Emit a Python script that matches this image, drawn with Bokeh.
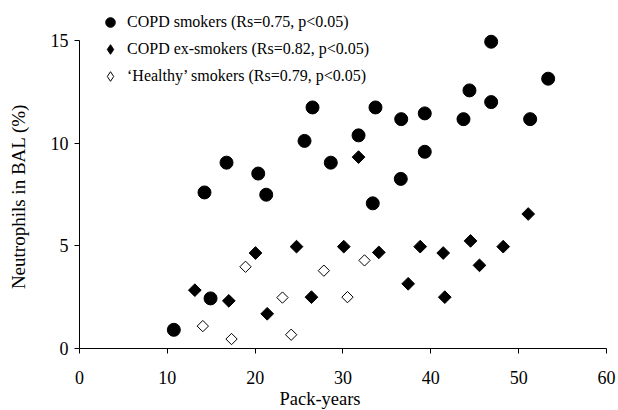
import math
from bokeh.plotting import figure
from bokeh.models import (ColumnDataSource, Legend, LegendItem, FixedTicker, Range1d,
                          LinearAxis)
from bokeh.core.properties import value
from bokeh.embed import file_html
from bokeh.resources import INLINE

# COPD smokers
copd_smk_x = [10.74, 14.92, 14.23, 16.74, 20.35, 21.26, 25.62, 26.53, 28.61, 31.77, 33.39,
              33.70, 36.58, 36.63, 39.31, 39.31, 43.72, 44.40, 46.87, 46.87, 51.31, 53.36]
copd_smk_y = [0.91, 2.44, 7.60, 9.05, 8.52, 7.49, 10.11, 11.74, 9.05, 10.38, 7.07,
              11.74, 8.26, 11.17, 9.58, 11.45, 11.17, 12.57, 14.94, 12.00, 11.17, 13.14]
# COPD ex-smokers
copd_ex_x = [13.13, 17.00, 20.04, 21.37, 24.71, 26.41, 30.09, 31.77, 34.08, 37.42, 38.79,
             41.41, 41.59, 44.52, 45.54, 48.24, 51.09]
copd_ex_y = [2.84, 2.32, 4.65, 1.69, 4.96, 2.50, 4.96, 9.32, 4.68, 3.15, 4.96,
             4.65, 2.50, 5.24, 4.05, 4.96, 6.55]
# 'Healthy' smokers
healthy_x = [14.04, 17.31, 18.90, 23.11, 24.10, 27.82, 30.51, 32.45]
healthy_y = [1.09, 0.46, 3.98, 2.48, 0.67, 3.79, 2.50, 4.29]

labels = ["COPD smokers (Rs=0.75, p<0.05)",
          "COPD ex-smokers (Rs=0.82, p<0.05)",
          "\u2018Healthy\u2019 smokers (Rs=0.79, p<0.05)"]
x_ticks = [0, 10, 20, 30, 40, 50, 60]
y_ticks = [0, 5, 10, 15]
x_title = "Pack-years"
y_title = "Neutrophils in BAL (%)"

FONT = "Liberation Serif"
nan = float("nan")

p = figure(width=618, height=410, output_backend="svg", toolbar_location=None,
           x_range=Range1d(-8.995, 61.368), y_range=Range1d(-3.020, 16.948),
           x_axis_location=None, y_axis_location=None,
           min_border_left=0, min_border_right=0, min_border_top=0, min_border_bottom=0)
p.outline_line_color = None
p.xgrid.visible = False
p.ygrid.visible = False
p.background_fill_color = "white"
p.border_fill_color = "white"

# axes drawn at the data origin (their labels are drawn as serif text below)
xax = LinearAxis(fixed_location=0, ticker=FixedTicker(ticks=x_ticks), bounds=(0, 60),
                 major_label_overrides={t: "" for t in x_ticks},
                 major_label_orientation="vertical", major_label_standoff=0,
                 major_tick_out=0, major_tick_in=5)
yax = LinearAxis(fixed_location=0, ticker=FixedTicker(ticks=y_ticks), bounds=(0, 15),
                 major_label_overrides={t: "" for t in y_ticks},
                 major_label_standoff=0, major_tick_out=0, major_tick_in=5)
for ax in (xax, yax):
    ax.axis_line_color = "black"
    ax.axis_line_width = 1
    ax.major_tick_line_color = "black"
    ax.minor_tick_line_color = None
p.add_layout(xax, "above")
p.add_layout(yax, "right")

s1 = ColumnDataSource(dict(x=copd_smk_x, y=copd_smk_y))
s2 = ColumnDataSource(dict(x=copd_ex_x, y=copd_ex_y))
s3 = ColumnDataSource(dict(x=healthy_x, y=healthy_y))

r1 = p.scatter("x", "y", source=s1, marker="circle", size=13,
               fill_color="black", line_color="black")
r2 = p.scatter("x", "y", source=s2, marker="square", size=9, angle=math.pi / 4,
               fill_color="black", line_color="black")
r3 = p.scatter("x", "y", source=s3, marker="square", size=8, angle=math.pi / 4,
               fill_color="white", line_color="black", line_width=1)

# tick labels
p.text(x=x_ticks, y=[y_ticks[0]] * len(x_ticks), text=[str(t) for t in x_ticks],
       text_font=value(FONT), text_font_size="18px", text_color="black",
       text_align="center", text_baseline="middle", y_offset=29)
p.text(x=[x_ticks[0]] * len(y_ticks), y=y_ticks, text=[str(t) for t in y_ticks],
       text_font=value(FONT), text_font_size="18px", text_color="black",
       text_align="right", text_baseline="middle", x_offset=-11)

# axis titles
p.text(x=[(x_ticks[0] + x_ticks[-1]) / 2], y=[y_ticks[0]], text=[x_title],
       text_font=value(FONT), text_font_size="18.5px", text_color="black",
       text_align="center", text_baseline="middle", x_offset=-23, y_offset=51)
p.text(x=[x_ticks[0]], y=[(y_ticks[0] + y_ticks[-1]) / 2], text=[y_title],
       text_font=value(FONT), text_font_size="19px", text_color="black",
       text_align="center", text_baseline="middle", angle=math.pi / 2,
       x_offset=-61, y_offset=2)

# legend-only glyphs (the legend ignores marker angle, so use diamond shapes)
l1 = p.scatter(x=[nan], y=[nan], marker="circle", size=10, fill_color="black", line_color="black")
l2 = p.scatter(x=[nan], y=[nan], marker="diamond", size=10, fill_color="black", line_color="black")
l3 = p.scatter(x=[nan], y=[nan], marker="diamond", size=10, fill_color="white", line_color="black")

legend = Legend(items=[LegendItem(label=labels[0], renderers=[l1]),
                       LegendItem(label=labels[1], renderers=[l2]),
                       LegendItem(label=labels[2], renderers=[l3])],
                location=(98, 322), orientation="vertical")
legend.border_line_color = None
legend.background_fill_alpha = 0
legend.padding = 0
legend.margin = 0
legend.spacing = 3
legend.glyph_width = 24
legend.glyph_height = 24
legend.label_height = 24
legend.label_standoff = 5
legend.label_text_font = FONT
legend.label_text_font_size = "16px"
legend.label_text_color = "black"
p.add_layout(legend, "center")

open("out.html", "w").write(file_html(p, INLINE))
